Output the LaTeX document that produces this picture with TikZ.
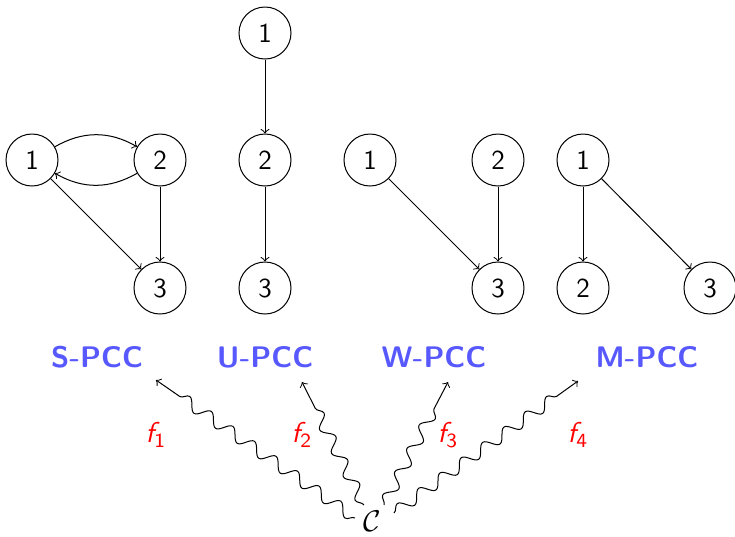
\documentclass[tikz,border=0pt]{standalone}
\usepackage{fontspec}
\usetikzlibrary{decorations.pathmorphing}
\definecolor{pccblue}{RGB}{88,88,255}
\begin{document}
\begin{tikzpicture}[x=0.4pt,y=-0.4pt,
  vert/.style={circle,draw,minimum size=20.8pt,inner sep=0pt,
    font=\sffamily\fontsize{11}{13}\selectfont},
  edge/.style={->},
  pcc/.style={text=pccblue,font=\sffamily\bfseries\fontsize{11.9}{14}\selectfont},
  flab/.style={text=red,font=\sffamily\fontsize{11.5}{14}\selectfont},
  wave/.style={->,decorate,decoration={snake,amplitude=2.3pt,
    segment length=10.5pt,post length=8pt}}]
\useasboundingbox (0,0) rectangle (735,536);

% S-PCC graph
\node[vert] (s1) at (32,160) {1};
\node[vert] (s2) at (160,160) {2};
\node[vert] (s3) at (160,288) {3};
\draw[edge] (s1) to[bend left=30] (s2);
\draw[edge] (s2) to[bend left=30] (s1);
\draw[edge] (s1) -- (s3);
\draw[edge] (s2) -- (s3);

% U-PCC graph
\node[vert] (u1) at (265,33) {1};
\node[vert] (u2) at (265,160) {2};
\node[vert] (u3) at (265,288) {3};
\draw[edge] (u1) -- (u2);
\draw[edge] (u2) -- (u3);

% W-PCC graph
\node[vert] (w1) at (370,160) {1};
\node[vert] (w2) at (498,160) {2};
\node[vert] (w3) at (498,288) {3};
\draw[edge] (w1) -- (w3);
\draw[edge] (w2) -- (w3);

% M-PCC graph
\node[vert] (m1) at (583,160) {1};
\node[vert] (m2) at (583,288) {2};
\node[vert] (m3) at (710,288) {3};
\draw[edge] (m1) -- (m2);
\draw[edge] (m1) -- (m3);

% class names
\node[pcc] (ls) at (97,357) {S-PCC};
\node[pcc] (lu) at (265,357) {U-PCC};
\node[pcc] (lw) at (434,357) {W-PCC};
\node[pcc] (lm) at (647,357) {M-PCC};

% the source C and its maps
\node (c) at (372,521) {\fontsize{12.5}{14}\selectfont$\mathcal{C}$};
\coordinate (c1) at (355,518);
\coordinate (c2) at (364,505);
\coordinate (c3) at (384,505);
\coordinate (c4) at (394,513);
\coordinate (t1) at (156,380);
\coordinate (t2) at (302,382);
\coordinate (t3) at (448,382);
\coordinate (t4) at (578,381);
\draw[wave] (c1) -- (t1);
\draw[wave] (c2) -- (t2);
\draw[wave] (c3) -- (t3);
\draw[wave] (c4) -- (t4);

\node[flab] (f1) at (156,435) {{\itshape f}\textsubscript{1}};
\node[flab] (f2) at (302,435) {{\itshape f}\textsubscript{2}};
\node[flab] (f3) at (448,435) {{\itshape f}\textsubscript{3}};
\node[flab] (f4) at (578,435) {{\itshape f}\textsubscript{4}};
\end{tikzpicture}
\end{document}
